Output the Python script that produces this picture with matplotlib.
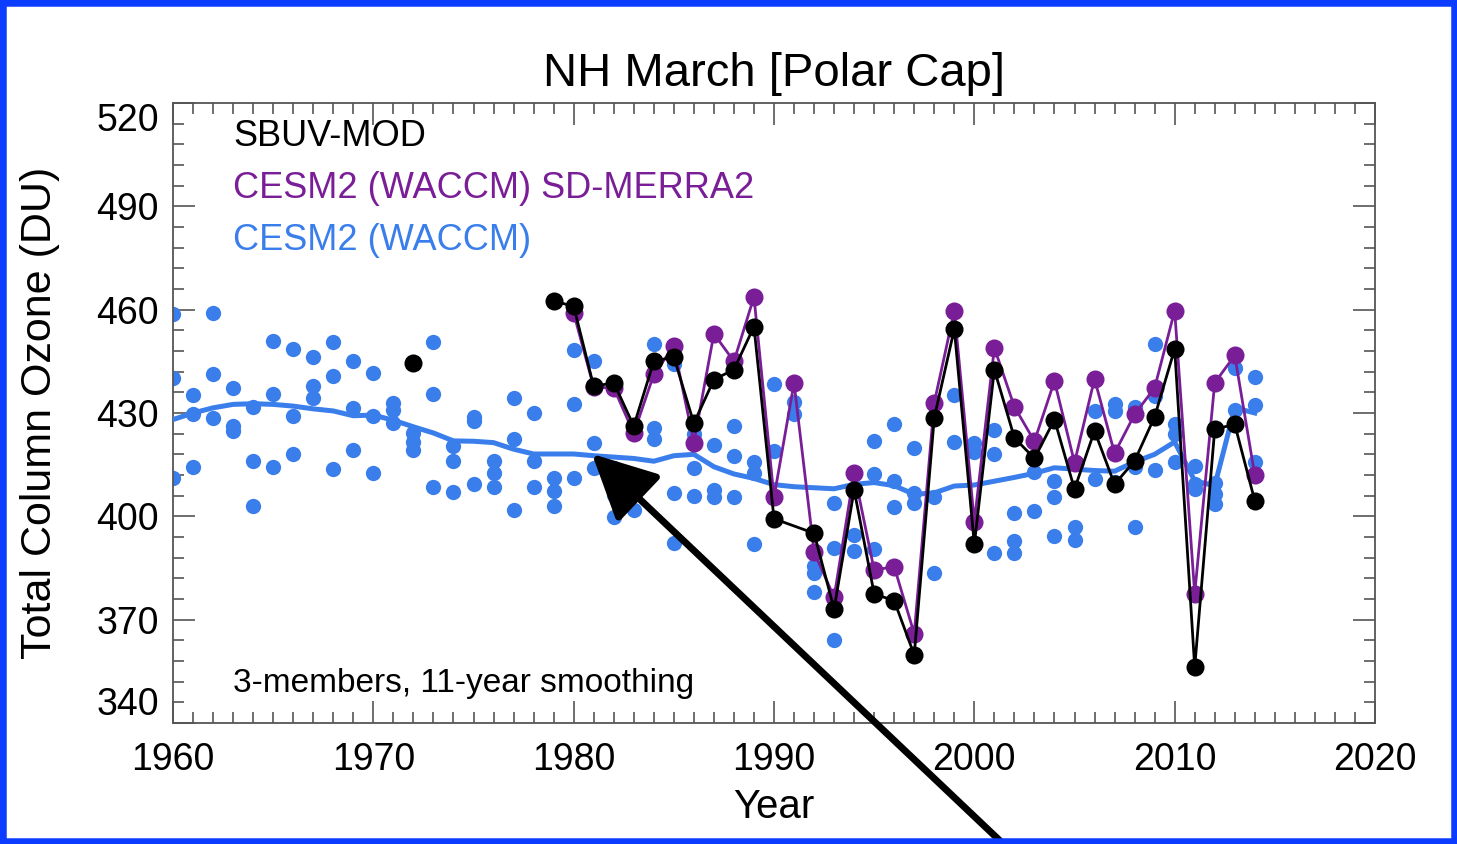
import numpy as np
import matplotlib.pyplot as plt
from matplotlib.patches import FancyArrowPatch, Rectangle
from matplotlib.ticker import FixedLocator

plt.rcParams['font.family'] = ['Liberation Sans', 'DejaVu Sans']

# CESM2 (WACCM) free-running, 3 members, 1960-2014
years = np.arange(1960, 2015)
waccm_1 = [458.8, 435.2, 459.0, 437.3, 431.7, 451.0, 448.7, 446.2, 450.6, 445.0,
           441.7, 432.8, 424.1, 450.5, 420.4, 428.9, 416.1, 434.4, 430.1, 411.1,
           448.4, 445.0, 414.0, 412.0, 449.9, 444.1, 423.8, 420.6, 426.1, 415.7,
           438.3, 438.6, 385.6, 403.9, 407.5, 422.0, 426.7, 419.9, 428.5, 454.0,
           421.2, 425.0, 400.9, 417.0, 410.2, 408.0, 430.6, 432.5, 431.8, 449.9,
           426.7, 414.6, 409.8, 443.1, 440.5]
waccm_2 = [440.2, 429.6, 441.2, 426.2, 416.1, 435.6, 429.1, 437.8, 440.7, 431.4,
           429.0, 431.0, 421.6, 435.4, 416.1, 427.7, 412.5, 422.4, 416.1, 407.4,
           432.7, 421.3, 406.1, 409.9, 425.7, 406.9, 414.0, 407.6, 417.6, 412.7,
           419.0, 433.2, 383.5, 390.8, 394.7, 412.2, 410.2, 406.9, 405.5, 435.3,
           418.7, 418.0, 392.9, 412.9, 405.5, 396.8, 425.0, 430.6, 414.4, 434.9,
           424.0, 409.3, 406.6, 431.0, 432.2]
waccm_3 = [411.0, 414.2, 428.6, 424.8, 403.1, 414.2, 418.0, 434.4, 413.7, 419.2,
           412.5, 427.0, 419.2, 408.5, 407.1, 409.5, 408.4, 401.8, 408.5, 403.0,
           411.0, 414.0, 399.7, 401.7, 422.4, 392.4, 405.8, 405.5, 405.5, 392.0,
           399.5, 429.6, 378.0, 364.0, 389.8, 390.4, 402.6, 404.0, 383.5, 421.5,
           398.5, 389.5, 389.5, 401.5, 394.4, 393.2, 410.7, 410.0, 396.8, 413.4,
           415.7, 408.0, 403.5, 426.5, 415.8]
waccm_smooth = [428.1, 430.0, 431.5, 432.5, 432.7, 432.5, 432.0, 431.2, 430.6, 429.2,
                429.4, 427.9, 426.0, 424.2, 421.9, 421.8, 421.4, 419.5, 418.1, 418.1,
                418.1, 417.6, 417.2, 416.8, 416.0, 417.6, 418.0, 414.4, 412.3, 411.0,
                409.2, 408.6, 408.3, 408.0, 409.3, 409.8, 408.9, 406.4, 406.8, 408.8,
                409.1, 410.2, 411.3, 412.5, 414.1, 413.7, 413.3, 413.1, 415.8, 418.0,
                421.6, 410.3, 408.9, 431.5, 430.0]

# CESM2 (WACCM) SD-MERRA2, 1980-2014
sd_years = np.arange(1980, 2015)
sd_merra2 = [459.0, 437.5, 437.3, 424.1, 441.2, 449.4, 421.4, 453.0, 445.0, 463.7,
             405.5, 438.7, 389.7, 376.5, 412.7, 384.4, 385.4, 365.9, 433.0, 459.7,
             398.4, 448.9, 431.8, 421.8, 439.3, 415.6, 439.9, 418.3, 429.6, 437.3,
             459.7, 377.5, 438.8, 446.7, 411.9]

# SBUV-MOD observations
sbuv_years = [1972, 1979, 1980, 1981, 1982, 1983, 1984, 1985, 1986, 1987, 1988, 1989,
              1990, 1992, 1993, 1994, 1995, 1996, 1997, 1998, 1999, 2000, 2001, 2002,
              2003, 2004, 2005, 2006, 2007, 2008, 2009, 2010, 2011, 2012, 2013, 2014]
sbuv = [444.5, 462.5, 461.0, 437.7, 438.8, 426.2, 445.0, 446.3, 427.0, 439.7, 442.6, 455.1,
        399.3, 395.1, 373.1, 407.7, 377.5, 375.5, 359.8, 428.6, 454.4, 391.9, 442.6, 422.8,
        416.8, 428.1, 407.9, 424.8, 409.3, 416.1, 428.9, 448.6, 356.2, 425.3, 426.7, 404.5]

x_ticks = [1960, 1970, 1980, 1990, 2000, 2010, 2020]
y_ticks = [340, 370, 400, 430, 460, 490, 520]

blue = '#3a7eec'
purple = '#7a1e98'

fig = plt.figure(figsize=(14.57, 8.44), dpi=100)
ax = fig.add_axes([173 / 1457, 1 - 723 / 844, 1202 / 1457, 620 / 844])

for member in [waccm_1, waccm_2, waccm_3]:
    ax.plot(years, member, 'o', color=blue, markersize=11, markeredgewidth=0, zorder=2)
ax.plot(years, waccm_smooth, '-', color=blue, linewidth=3.6, zorder=3)

ax.plot(sd_years, sd_merra2, '-o', color=purple, linewidth=2, markersize=13,
        markeredgewidth=0, zorder=4)

sbuv_years = np.array(sbuv_years)
sbuv = np.array(sbuv)
cont = sbuv_years >= 1979
ax.plot(sbuv_years[cont], sbuv[cont], '-', color='black', linewidth=2, zorder=5)
ax.plot(sbuv_years, sbuv, 'o', color='black', markersize=13, markeredgewidth=0, zorder=5)

ax.set_xlim(1960, 2020)
ax.set_ylim(340, 520)
ax.xaxis.set_major_locator(FixedLocator(x_ticks))
ax.xaxis.set_minor_locator(FixedLocator(np.arange(1960, 2021, 1)))
ax.yaxis.set_major_locator(FixedLocator(y_ticks))
ax.yaxis.set_minor_locator(FixedLocator(np.arange(340, 521, 6)))
ax.tick_params(which='both', direction='in', top=True, right=True, color='#555555', width=1.2)
ax.tick_params(which='major', length=16, labelsize=27)
ax.tick_params(which='minor', length=8)
ax.tick_params(axis='x', which='major', pad=14)
ax.tick_params(axis='y', which='major', pad=10)
for s in ax.spines.values():
    s.set_color('#555555')
    s.set_linewidth(1.3)

# end labels sit inside the axis range, like the original
ylabels = ax.get_yticklabels()
ylabels[0].set_va('bottom')
ylabels[-1].set_va('top')

ax.set_xlabel('Year', fontsize=29)
ax.xaxis.set_label_coords(0.5, -0.105)
ax.set_ylabel('Total Column Ozone (DU)', fontsize=31)
ax.yaxis.set_label_coords(-0.094, 0.5)

fig.text(774 / 1457, 1 - 86 / 844, 'NH March [Polar Cap]', fontsize=34,
         ha='center', va='baseline')

ax.text(0.05, 0.9306, 'SBUV-MOD', color='black', fontsize=26, transform=ax.transAxes, va='baseline')
ax.text(0.05, 0.8468, 'CESM2 (WACCM) SD-MERRA2', color=purple, fontsize=26,
        transform=ax.transAxes, va='baseline')
ax.text(0.05, 0.7629, 'CESM2 (WACCM)', color=blue, fontsize=26, transform=ax.transAxes, va='baseline')
ax.text(0.05, 0.05, '3-members, 11-year smoothing', color='black', fontsize=24,
        transform=ax.transAxes, va='baseline')

# pointer arrow toward the smoothed curve
arrow = FancyArrowPatch(posA=(1016 / 1457, -12 / 844), posB=(590 / 1457, 1 - 452 / 844),
                        transform=fig.transFigure, arrowstyle='-|>,head_length=0.9,head_width=0.45',
                        mutation_scale=44, linewidth=5, color='black', zorder=10)
fig.add_artist(arrow)

fig.add_artist(Rectangle((0, 0), 1, 1, transform=fig.transFigure, fill=False,
                         edgecolor='#0b3cff', linewidth=9, zorder=11))

plt.savefig('out.png', dpi=100)
